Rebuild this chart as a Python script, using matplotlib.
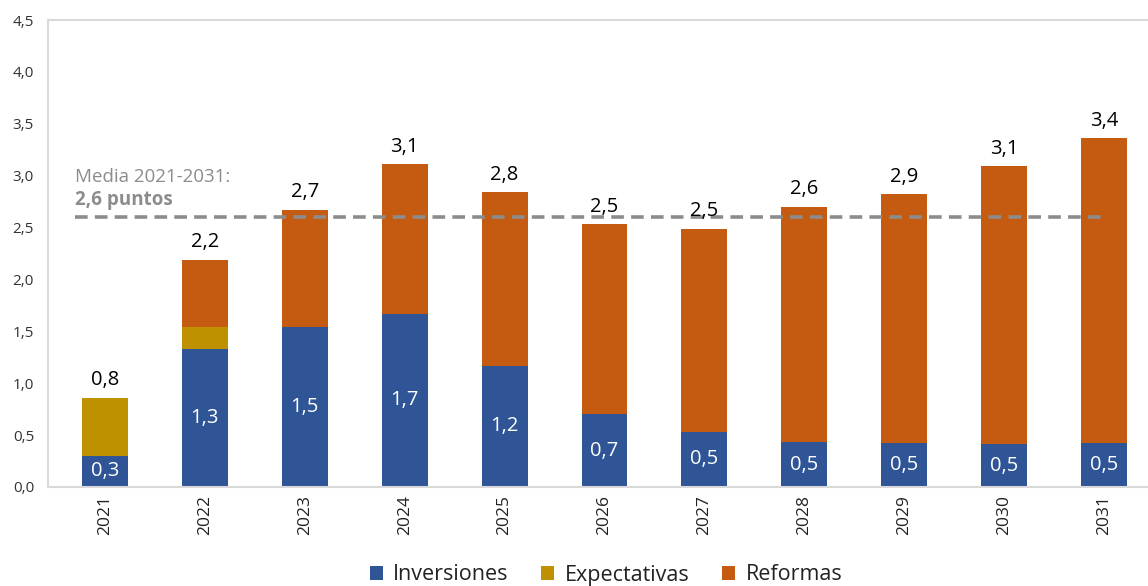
import matplotlib
matplotlib.use("Agg")
import matplotlib.pyplot as plt
import numpy as np

plt.rcParams['font.family'] = ['Open Sans', 'DejaVu Sans']

years = ['2021', '2022', '2023', '2024', '2025', '2026', '2027', '2028', '2029', '2030', '2031']
inversiones = [0.30, 1.33, 1.54, 1.67, 1.17, 0.70, 0.53, 0.43, 0.42, 0.41, 0.42]
expectativas = [0.56, 0.21, 0.0, 0.0, 0.0, 0.0, 0.0, 0.0, 0.0, 0.0, 0.0]
reformas = [0.0, 0.65, 1.13, 1.44, 1.67, 1.83, 1.96, 2.27, 2.40, 2.68, 2.94]
inv_labels = ['0,3', '1,3', '1,5', '1,7', '1,2', '0,7', '0,5', '0,5', '0,5', '0,5', '0,5']
total_labels = ['0,8', '2,2', '2,7', '3,1', '2,8', '2,5', '2,5', '2,6', '2,9', '3,1', '3,4']
media = 2.6
yticks = [0.0, 0.5, 1.0, 1.5, 2.0, 2.5, 3.0, 3.5, 4.0, 4.5]

c_inv = '#2F5597'
c_exp = '#BF9000'
c_ref = '#C55A11'

fig = plt.figure(figsize=(11.48, 5.86), dpi=100)
ax = fig.add_axes([48/1148, 99/586, 1 - 48/1148, (487-20)/586])

x = np.arange(len(years))
inv = np.array(inversiones)
exp_ = np.array(expectativas)
ref = np.array(reformas)
w = 0.46
ax.bar(x, inv, w, color=c_inv, label='Inversiones')
ax.bar(x, exp_, w, bottom=inv, color=c_exp, label='Expectativas')
ax.bar(x, ref, w, bottom=inv + exp_, color=c_ref, label='Reformas')

tot = inv + exp_ + ref
for i in range(len(x)):
    ax.text(x[i], inv[i] / 2, inv_labels[i], ha='center', va='center',
            color='white', fontsize=14.5)
    ax.annotate(total_labels[i], (x[i], tot[i]), xytext=(0, 5.5),
                textcoords='offset points', ha='center', va='bottom',
                fontsize=14.5, color='black')

ax.plot([-0.3, 10.0], [media, media], color='#8C8C8C', lw=2.6,
        dashes=(3.5, 2.0))
ax.text(-0.3, 2.985, 'Media 2021-2031:', color='#8C8C8C', fontsize=13.5,
        ha='left', va='center')
ax.text(-0.3, 2.77, '2,6 puntos', color='#8C8C8C', fontsize=13.5,
        fontweight='bold', ha='left', va='center')

ax.set_ylim(0, 4.5)
ax.set_xlim(-0.57, 10.44)
ax.set_yticks(yticks)
ax.set_yticklabels([f'{v:.1f}'.replace('.', ',') for v in yticks], fontsize=11, color='#333333')
ax.set_xticks(x)
ax.set_xticklabels(years, rotation=90, fontsize=12.5, color='#222222')
ax.tick_params(axis='both', length=0)
ax.tick_params(axis='y', pad=10)
ax.tick_params(axis='x', pad=6)

for s in ['right']:
    ax.spines[s].set_visible(False)
for s in ['left', 'bottom', 'top']:
    ax.spines[s].set_color('#D9D9D9')
    ax.spines[s].set_linewidth(1.5)

leg = fig.legend(loc='center', bbox_to_anchor=(606/1148, 1 - 575/586), ncol=3,
                 frameon=False, fontsize=15.5, handlelength=0.6, handleheight=0.6,
                 handletextpad=0.5, columnspacing=1.5)
for t in leg.get_texts():
    t.set_color('#222222')

fig.savefig('out.png', dpi=100)
